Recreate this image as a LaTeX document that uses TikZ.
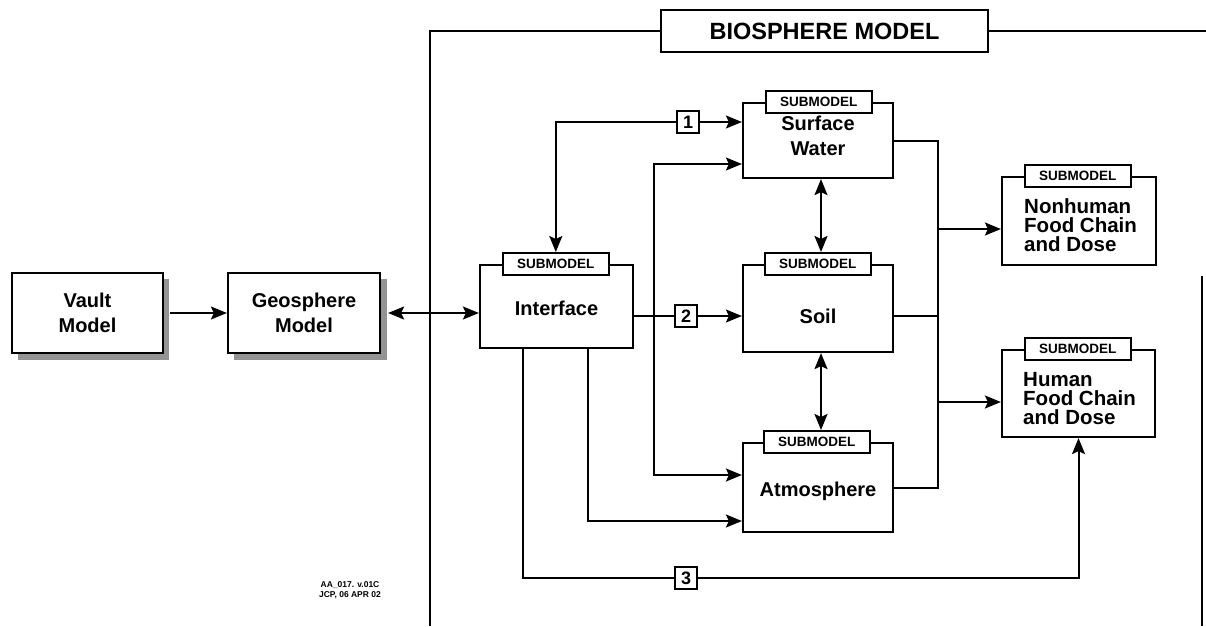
\documentclass[tikz,border=0pt]{standalone}
\usepackage{fontspec}
\setmainfont{Liberation Sans}
\usetikzlibrary{arrows.meta}
\begin{document}
\begin{tikzpicture}[x=1pt,y=-1pt,
  box/.style={draw, line width=2.2pt, fill=white, inner sep=0pt},
  tabbox/.style={draw, line width=1.8pt, fill=white, inner sep=0pt, minimum width=106pt, minimum height=22pt, font=\fontsize{13.5}{14}\selectfont\bfseries},
  txt/.style={font=\fontsize{20}{25}\selectfont\bfseries, align=center, inner sep=0pt},
  ltxt/.style={font=\fontsize{20.5}{19}\selectfont\bfseries, align=left, inner sep=0pt},
  num/.style={draw, line width=1.6pt, fill=white, inner sep=0pt, minimum width=22pt, minimum height=22pt, font=\fontsize{18}{18}\selectfont\bfseries},
  wire/.style={line width=2pt},
  conn/.style={line width=2pt, -{Stealth[length=16pt,width=13pt,inset=3pt]}},
  dconn/.style={line width=2pt, {Stealth[length=16pt,width=13pt,inset=3pt]}-{Stealth[length=16pt,width=13pt,inset=3pt]}},
  shadowfill/.style={fill=black!42},
  framel/.style={line width=2pt}
]
\useasboundingbox (0,0) rectangle (1206,626);

% shadows
\fill[shadowfill] (18,279) rectangle (169,360);
\fill[shadowfill] (234,279) rectangle (387,360);

% outer frame
\node[draw, line width=2pt, fill=white, minimum width=327pt, minimum height=42pt, inner sep=0pt, font=\fontsize{23.5}{23.5}\selectfont\bfseries] (title) at (824.5,31) {BIOSPHERE MODEL};
\draw[framel] (title.west) -- (430,31) -- (430,626);
\draw[framel] (title.east) -- (1206,31);
\draw[framel] (1202,276) -- (1202,626);

% left boxes
\node[box, minimum width=151pt, minimum height=80pt] (vault) at (87.5,313) {};
\node[txt] (vaultT) at (vault) {Vault\\Model};
\node[box, minimum width=152pt, minimum height=80pt] (geo) at (304,313) {};
\node[txt] (geoT) at (geo) {Geosphere\\Model};

% submodel boxes
\node[box, minimum width=153pt, minimum height=83pt] (iface) at (556.5,306.5) {};
\node[txt] (ifaceT) at (556.5,308) {Interface};
\node[tabbox, anchor=west] (itab) at ([xshift=23pt]iface.north west) {SUBMODEL};

\node[box, minimum width=150pt, minimum height=75pt] (sw) at (818,140.5) {};
\node[txt] (swT) at (818,136) {Surface\\Water};
\node[tabbox, anchor=west] (swtab) at ([xshift=23pt]sw.north west) {SUBMODEL};

\node[box, minimum width=150pt, minimum height=87pt] (soil) at (818,308.5) {};
\node[txt] (soilT) at (818,316) {Soil};
\node[tabbox, anchor=west] (soiltab) at ([xshift=22pt]soil.north west) {SUBMODEL};

\node[box, minimum width=150pt, minimum height=89pt] (atm) at (818,487.5) {};
\node[txt] (atmT) at (818,491) {Atmosphere};
\node[tabbox, anchor=west] (atmtab) at ([xshift=21pt]atm.north west) {SUBMODEL};

\node[box, minimum width=154pt, minimum height=88pt] (nh) at (1079,221) {};
\node[ltxt, anchor=west] (nhT) at (1024,225) {Nonhuman\\Food Chain\\and Dose};
\node[tabbox, anchor=west] (nhtab) at ([xshift=23pt]nh.north west) {SUBMODEL};

\node[box, minimum width=153pt, minimum height=87pt] (hum) at (1078.5,393.5) {};
\node[ltxt, anchor=west] (humT) at (1023,399) {Human\\Food Chain\\and Dose};
\node[tabbox, anchor=west] (humtab) at ([xshift=23pt]hum.north west) {SUBMODEL};

% helper coordinates
\coordinate (c1) at (0,122);
\coordinate (c2) at (0,316);
\coordinate (a1) at (654,164);
\coordinate (a2) at (654,475);
\coordinate (b1) at (588,521);
\coordinate (d1) at (523,578);
\coordinate (bus) at (938,0);
\coordinate (e1) at (0,229);
\coordinate (e2) at (0,402);
\coordinate (vx) at (821,0);

% connectors
\draw[conn] ([xshift=6pt]vault.east) -- (geo.west);
\draw[dconn] ([xshift=7pt]geo.east) -- (iface.west |- geo.east);
\draw[dconn] (itab.north) |- (sw.west |- c1);
\draw[conn] (iface.east |- c2) -- (soil.west |- c2);
\draw[dconn] (sw.west |- a1) -- (a1) -- (a2) -- (atm.west |- a2);
\draw[conn] (iface.south -| b1) |- (atm.west |- b1);
\draw[conn] (iface.south -| d1) -- (d1) -- (hum.south |- d1) -- (hum.south);
\draw[wire] (sw.east) -| (bus |- atm.east) -- (atm.east);
\draw[wire] (soil.east |- c2) -- (bus |- c2);
\draw[conn] (bus |- e1) -- (nh.west |- e1);
\draw[conn] (bus |- e2) -- (hum.west |- e2);
\draw[dconn] (sw.south -| vx) -- (soiltab.north -| vx);
\draw[dconn] (soil.south -| vx) -- (atmtab.north -| vx);

% number labels
\node[num] (n1) at (688,122) {1};
\node[num] (n2) at (686,316) {2};
\node[num] (n3) at (686,578) {3};

% reference note
\node[font=\fontsize{8.5}{10}\selectfont\bfseries, align=center, inner sep=0pt] (note) at (350,590) {AA\_017. v.01C\\JCP, 06 APR 02};
\end{tikzpicture}
\end{document}
